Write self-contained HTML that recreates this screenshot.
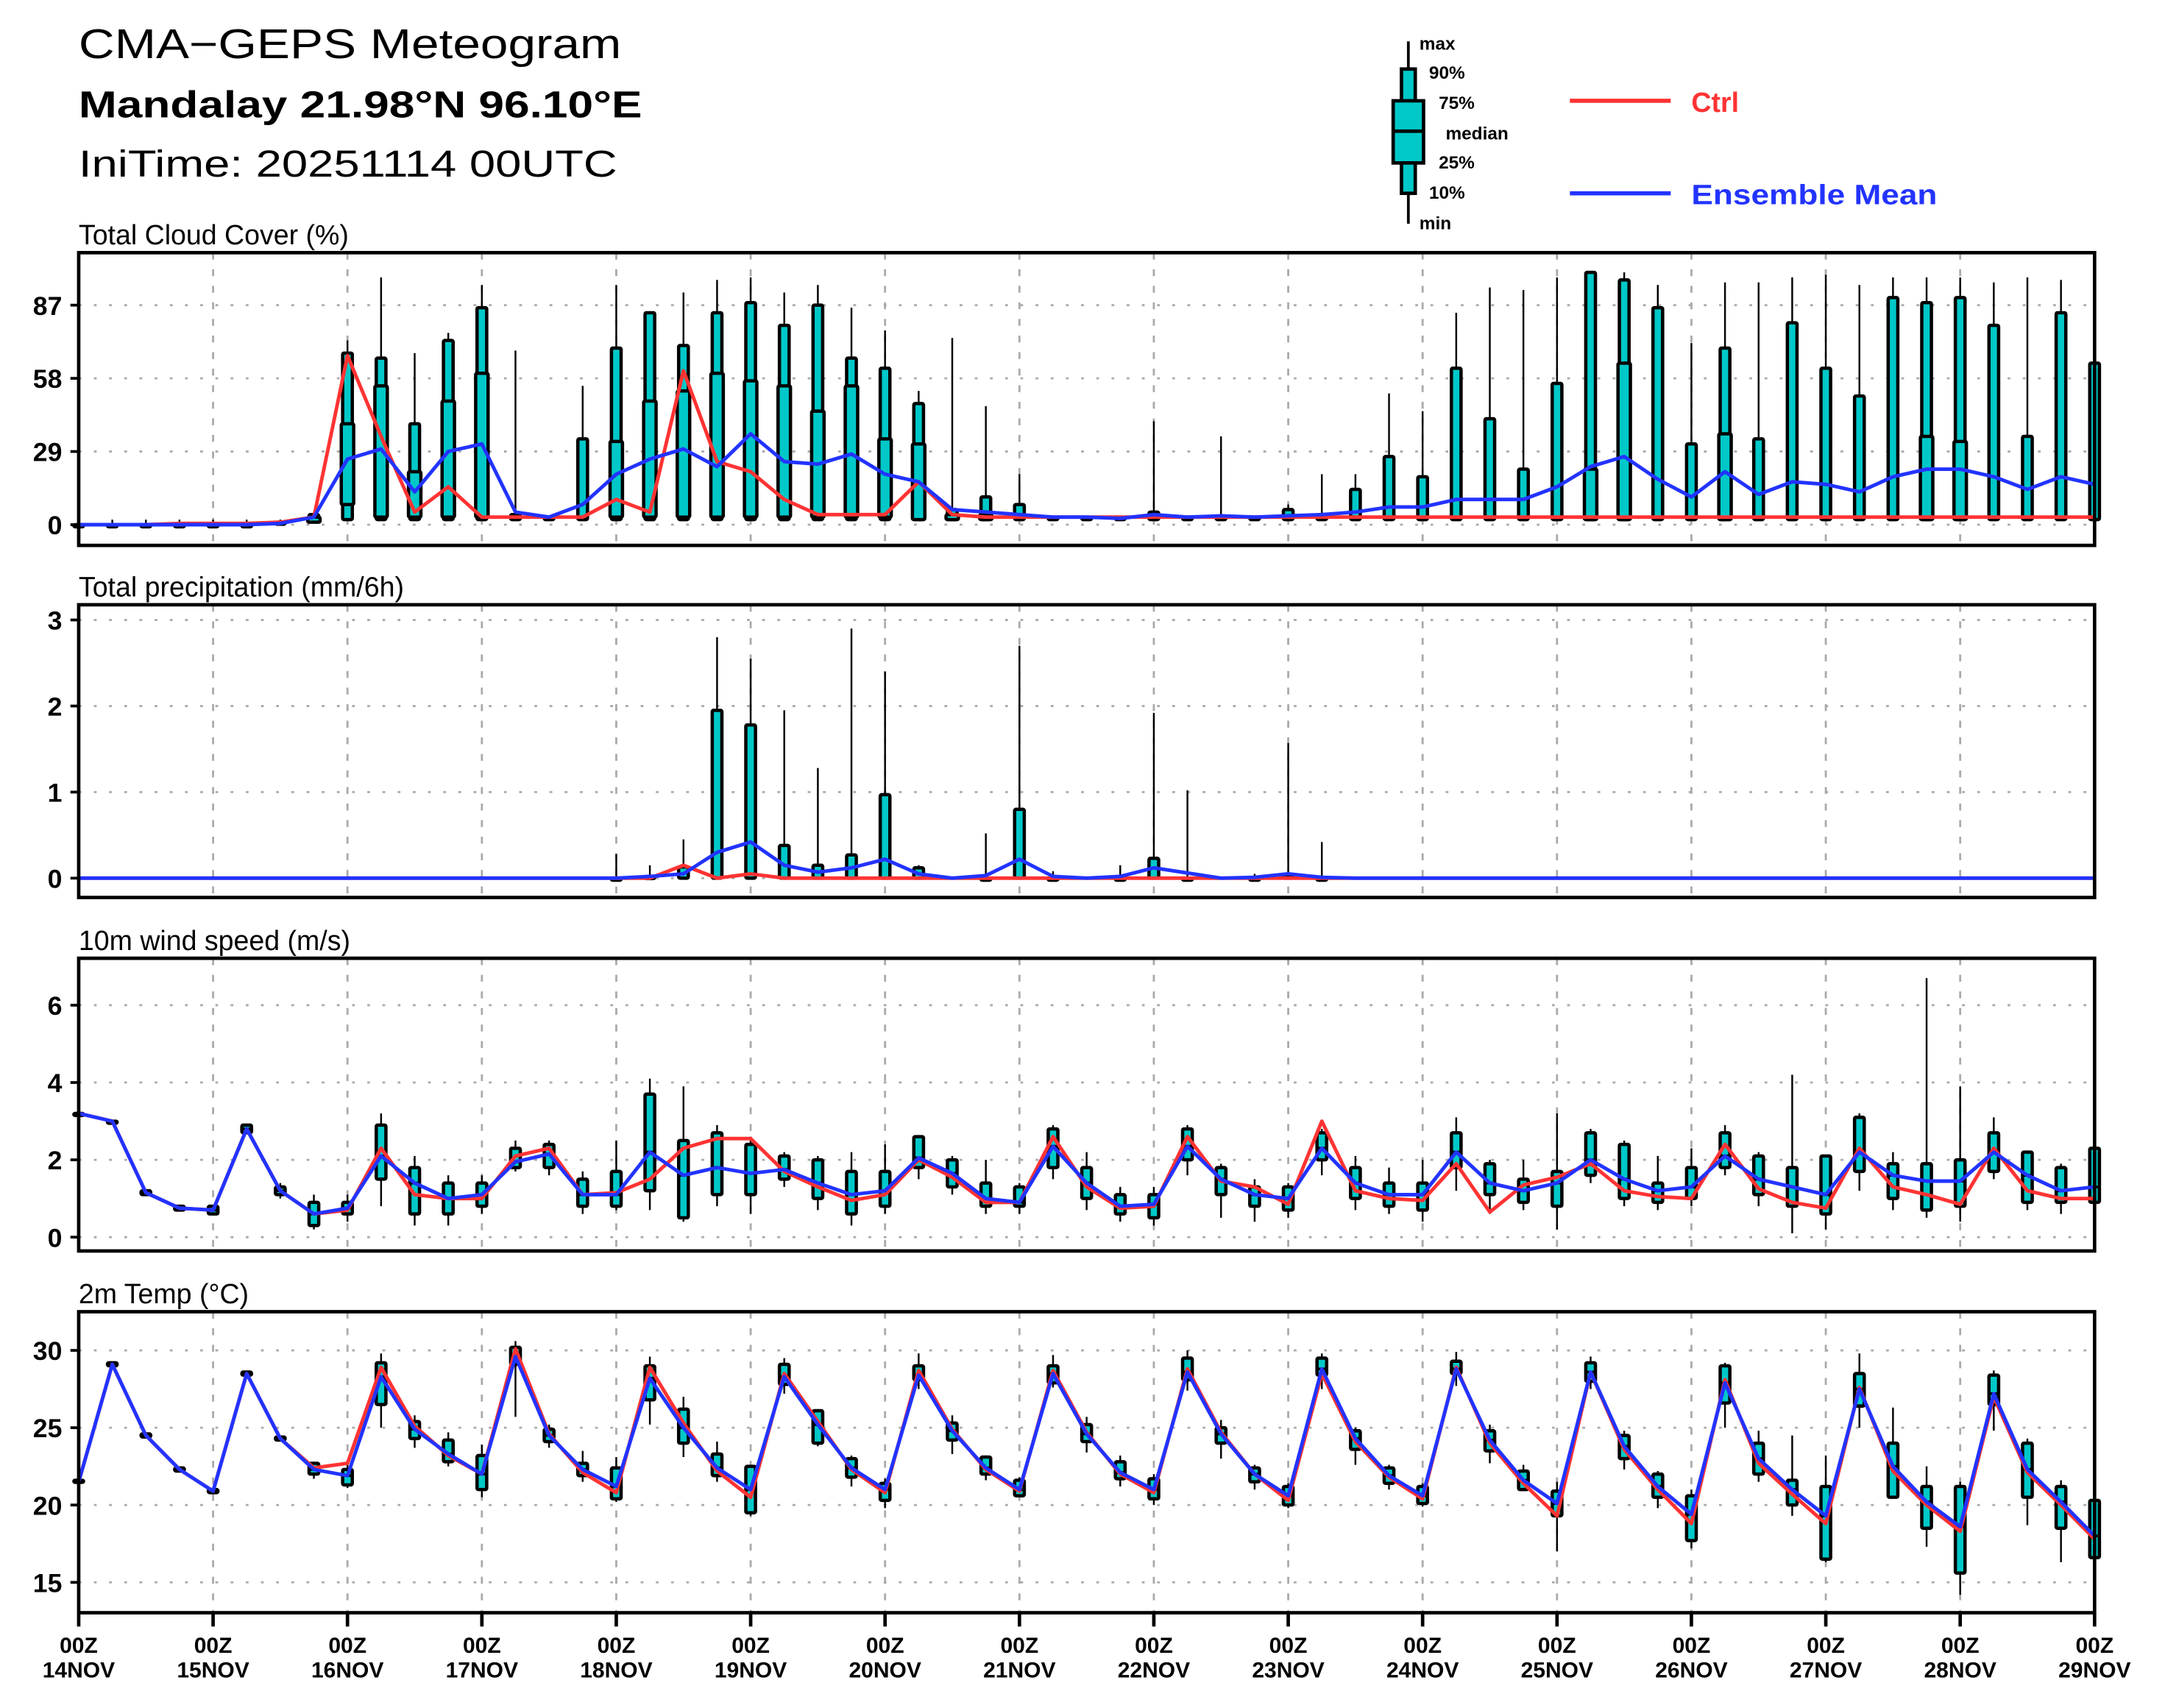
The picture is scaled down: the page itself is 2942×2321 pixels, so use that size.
<!DOCTYPE html>
<html><head><meta charset="utf-8"><style>
html,body{margin:0;padding:0;background:#fff}
svg{display:block}
text{font-family:"Liberation Sans",sans-serif;fill:#000}
</style></head><body>
<svg id="c" width="2942" height="2321" viewBox="0 0 1568 1237" preserveAspectRatio="none" xmlns="http://www.w3.org/2000/svg">
<text x="57" y="42" font-size="30" textLength="393" lengthAdjust="spacingAndGlyphs">CMA−GEPS Meteogram</text>
<text x="57" y="85" font-size="27" font-weight="bold" textLength="408" lengthAdjust="spacingAndGlyphs">Mandalay 21.98°N 96.10°E</text>
<text x="57" y="128" font-size="27" textLength="390" lengthAdjust="spacingAndGlyphs">IniTime: 20251114 00UTC</text>
<g>
<line x1="1020" y1="30" x2="1020" y2="162" stroke="#000" stroke-width="2"/>
<rect x="1015" y="50" width="10" height="90" fill="#00c8c8" stroke="#000" stroke-width="2.5"/>
<rect x="1009" y="73" width="22" height="45" fill="#00c8c8" stroke="#000" stroke-width="2.5"/>
<line x1="1009" y1="95" x2="1031" y2="95" stroke="#000" stroke-width="2.5"/>
<text x="1028" y="36" font-size="13" font-weight="bold">max</text>
<text x="1035" y="57" font-size="13" font-weight="bold">90%</text>
<text x="1042" y="79" font-size="13" font-weight="bold">75%</text>
<text x="1047" y="101" font-size="13" font-weight="bold">median</text>
<text x="1042" y="122" font-size="13" font-weight="bold">25%</text>
<text x="1035" y="144" font-size="13" font-weight="bold">10%</text>
<text x="1028" y="166" font-size="13" font-weight="bold">min</text>
</g>
<g>
<line x1="1137" y1="73" x2="1210" y2="73" stroke="#ff3333" stroke-width="3"/>
<text x="1225" y="81" font-size="20" font-weight="bold" style="fill:#ff3333">Ctrl</text>
</g>
<g>
<line x1="1137" y1="140" x2="1210" y2="140" stroke="#2233ff" stroke-width="3"/>
<text x="1225" y="148" font-size="20" font-weight="bold" style="fill:#2233ff" textLength="178" lengthAdjust="spacingAndGlyphs">Ensemble Mean</text>
</g>
<g id="plots"></g>
</svg>
<script>
const days=["14NOV","15NOV","16NOV","17NOV","18NOV","19NOV","20NOV","21NOV","22NOV","23NOV","24NOV","25NOV","26NOV","27NOV","28NOV","29NOV"];
// Cloud cover
const cCtrl=[0,0,0,0.5,0.5,0.5,1,3,67,35,5,15,3,3,3,3,10,5,61,25,21,10,4,4,4,17,4,3,3,3,3,3,3,3,3,3,3,3,3,3,3,3,3,3,3,3,3,3,3,3,3,3,3,3,3,3,3,3,3,3,3];
const cMean=[0,0,0,0,0,0,0.5,3,26,30,13,29,32,5,3,8,20,26,30,23,36,25,24,28,20,17,6,5,4,3,3,2.5,4,3,3.5,3,3.5,4,5,7,7,10,10,10,15,23,27,18,11,21,12,17,16,13,19,22,22,19,14,19,16];
const cP25=[0,0,0,0,0,0,0.5,1,8,3,3,3,3,2,2,2,3,3,3,3,3,3,3,3,3,2,2,2,2,2,2,2,2,2,2,2,2,2,2,2,2,2,2,2,2,2,2,2,2,2,2,2,2,2,2,2,2,2,2,2,2];
const cP75=[0,0,0,0,0,0,1,3,40,55,21,49,60,3,3,3,33,49,53,60,57,55,45,55,34,32,4,4,3,3,3,3,3,3,3,3,3,3,3,3,3,3,3,3,3,22,64,3,3,36,3,3,3,3,3,35,33,3,3,3,3];
const cP90=[0,0,0,0,0,0,1,4,68,66,40,73,86,4,3,34,70,84,71,84,88,79,87,66,62,48,6,11,8,3,3,3,5,3,3,3,6,4,14,27,19,62,42,22,56,100,97,86,32,70,34,80,62,51,90,88,90,79,35,84,64];
const cMax=[0,0,0,0,0,0,1,4,73,98,68,76,95,69,3,55,95,84,92,97,98,92,95,86,77,53,74,47,20,3,3,3,41,3,35,3,8,20,20,52,45,84,94,93,98,100,100,95,72,96,96,98,99,95,98,98,98,96,98,97,64];
// Precipitation
const pCtrl=[0,0,0,0,0,0,0,0,0,0,0,0,0,0,0,0,0,0,0.15,0,0.05,0,0,0,0,0,0,0,0,0,0,0,0,0,0,0,0,0,0,0,0,0,0,0,0,0,0,0,0,0,0,0,0,0,0,0,0,0,0,0,0];
const pMean=[0,0,0,0,0,0,0,0,0,0,0,0,0,0,0,0,0,0.02,0.05,0.3,0.42,0.15,0.07,0.12,0.22,0.05,0,0.03,0.22,0.02,0,0.02,0.12,0.06,0,0.01,0.05,0.01,0,0,0,0,0,0,0,0,0,0,0,0,0,0,0,0,0,0,0,0,0,0,0];
const pP90=[0,0,0,0,0,0,0,0,0,0,0,0,0,0,0,0,0,0.02,0.13,1.95,1.78,0.38,0.15,0.27,0.97,0.12,0,0,0.8,0,0,0,0.23,0,0,0,0.03,0,0,0,0,0,0,0,0,0,0,0,0,0,0,0,0,0,0,0,0,0,0,0,0];
const pMax=[0,0,0,0,0,0,0,0,0,0,0,0,0,0,0,0,0.28,0.15,0.45,2.8,2.55,1.95,1.28,2.9,2.4,0.15,0,0.52,2.7,0.08,0,0.15,1.92,1.02,0,0.05,1.57,0.42,0,0,0,0,0,0,0,0,0,0,0,0,0,0,0,0,0,0,0,0,0,0,0];
// Wind
const wCtrl=[3.2,3.0,1.15,0.75,0.7,2.8,1.2,0.6,0.7,2.3,1.1,1.0,1.0,2.1,2.3,1.1,1.15,1.5,2.3,2.55,2.55,1.7,1.3,0.95,1.1,2.0,1.55,0.9,0.9,2.6,1.3,0.75,0.8,2.6,1.45,1.3,0.85,3.0,1.2,1.0,0.95,1.9,0.65,1.35,1.55,1.9,1.2,1.05,1.0,2.4,1.25,0.9,0.75,2.3,1.3,1.1,0.85,2.3,1.2,1.0,1.0];
const wMean=[3.2,3.0,1.15,0.75,0.7,2.8,1.2,0.6,0.75,2.1,1.4,1.0,1.1,1.95,2.15,1.1,1.1,2.2,1.6,1.8,1.65,1.75,1.4,1.1,1.2,2.05,1.65,1.0,0.9,2.35,1.4,0.8,0.85,2.35,1.5,1.1,1.0,2.3,1.4,1.1,1.1,2.2,1.4,1.2,1.4,2.0,1.5,1.2,1.3,2.1,1.5,1.3,1.1,2.2,1.6,1.45,1.45,2.2,1.6,1.2,1.3];
const wMin=[3.2,3.0,1.1,0.7,0.6,2.7,1.0,0.2,0.4,0.8,0.3,0.3,0.6,1.7,1.6,0.6,0.7,0.7,0.4,0.8,0.6,1.3,0.7,0.3,0.6,1.5,1.1,0.6,0.6,1.5,0.7,0.4,0.3,1.6,0.5,0.4,0.5,1.6,0.7,0.6,0.4,1.2,0.6,0.7,0.2,1.4,0.8,0.7,0.8,1.6,0.8,0.1,0.2,1.2,0.7,0.5,0.4,1.5,0.7,0.6,0.7];
const wP25=[3.2,3.0,1.1,0.7,0.6,2.7,1.1,0.3,0.6,1.5,0.6,0.6,0.8,1.8,1.8,0.8,0.8,1.2,0.5,1.1,1.1,1.5,1.0,0.6,0.8,1.8,1.3,0.8,0.8,1.8,1.0,0.6,0.5,2.0,1.1,0.8,0.7,2.0,1.0,0.8,0.7,1.8,1.1,0.9,0.8,1.6,1.0,0.9,1.0,1.8,1.1,0.8,0.6,1.7,1.0,0.7,0.8,1.7,0.9,0.9,0.9];
const wP75=[3.2,3.0,1.2,0.8,0.8,2.9,1.3,0.9,0.9,2.9,1.8,1.4,1.4,2.3,2.4,1.5,1.7,3.7,2.5,2.7,2.4,2.1,2.0,1.7,1.7,2.6,2.0,1.4,1.3,2.8,1.8,1.1,1.1,2.8,1.8,1.3,1.3,2.7,1.8,1.4,1.4,2.7,1.9,1.5,1.7,2.7,2.4,1.4,1.8,2.7,2.1,1.8,2.1,3.1,1.9,1.9,2.0,2.7,2.2,1.8,2.3];
const wMax=[3.2,3.0,1.2,0.8,0.8,2.9,1.4,1.1,1.1,3.2,2.1,1.6,1.6,2.5,2.5,1.7,2.5,4.1,3.9,2.9,2.6,2.2,2.1,2.2,2.4,2.6,2.1,2.0,1.4,2.9,2.2,1.3,1.3,2.9,1.9,1.5,1.4,2.8,2.1,1.8,2.0,3.1,2.0,2.0,3.2,2.8,2.5,2.1,2.3,2.9,2.2,4.2,2.1,3.2,2.2,6.7,3.9,3.1,2.2,1.9,2.3];
// Temperature
const tCtrl=[21.5,29.1,24.5,22.3,20.9,28.5,24.3,22.4,22.7,28.9,25.1,23.2,22.0,30.1,24.6,22.1,20.8,28.9,25.3,22.2,20.5,28.5,25.4,22.3,20.8,28.7,24.9,22.3,20.9,28.7,24.7,22.0,20.8,28.8,24.7,22.0,20.3,28.5,24.1,21.8,20.4,28.9,24.0,21.4,19.3,28.6,23.6,21.0,18.8,28.1,22.7,20.7,18.8,27.6,22.2,20.0,18.3,27.0,22.1,20.0,17.8];
const tMean=[21.5,29.1,24.5,22.3,20.9,28.5,24.3,22.3,21.9,28.3,24.9,23.3,22.0,29.6,24.5,22.3,21.2,28.2,25.0,22.4,21.0,28.3,25.2,22.4,21.0,28.4,24.8,22.4,21.0,28.5,24.6,22.1,21.0,28.6,24.6,22.0,20.6,28.8,24.3,21.9,20.6,28.8,24.2,21.6,20.1,28.6,23.8,21.2,19.4,27.9,23.0,21.0,19.3,27.5,22.5,20.2,18.6,27.2,22.3,20.2,18.0];
const tMin=[21.4,29.0,24.3,22.1,20.7,28.3,24.1,21.7,21.1,25,23.7,22.5,20.5,25.7,23.7,21.5,20.2,25.2,23.1,21.5,19.3,27.2,23.8,21.2,19.8,27.5,23.3,21.6,20.5,27.6,23.4,21.2,20.0,27.4,23.0,21.0,19.8,27.5,22.6,21.0,19.9,27.7,22.7,20.9,17.0,27.5,22.3,19.8,17.2,25.0,21.5,19.3,16.3,25.0,20.5,17.3,14.2,24.8,18.7,16.3,16.4];
const tP25=[21.5,29.0,24.4,22.2,20.8,28.4,24.2,22.0,21.3,26.5,24.3,22.8,21.0,29.1,24.1,21.9,20.4,26.8,24.0,21.9,19.5,27.8,24.0,21.8,20.3,28.1,24.2,22.0,20.6,27.9,24.1,21.7,20.4,28.1,24.0,21.5,20.0,28.4,23.6,21.4,20.1,28.5,23.5,21.0,19.3,28.0,23.0,20.5,17.7,26.6,22.0,20.0,16.5,26.4,20.5,18.5,15.6,26.5,20.5,18.5,16.6];
const tP75=[21.6,29.2,24.6,22.4,21.0,28.6,24.4,22.7,22.3,29.2,25.4,24.2,23.2,30.2,24.9,22.7,22.4,29.0,26.2,23.3,22.5,29.1,26.1,23.0,21.4,29.0,25.3,23.1,21.6,29.0,25.2,22.8,21.7,29.5,25.0,22.4,21.2,29.5,24.8,22.4,21.2,29.3,24.8,22.2,20.9,29.2,24.5,22.0,20.6,29.0,24.0,21.6,21.2,28.5,24.0,21.2,21.2,28.4,24.0,21.2,20.3];
const tMax=[21.6,29.2,24.6,22.4,21.0,28.6,24.4,22.8,22.6,29.8,25.8,24.7,23.9,30.6,25.2,23.5,23.1,29.6,27.0,24.1,22.6,29.5,26.2,23.2,21.7,29.8,25.8,23.2,21.8,29.7,25.7,23.2,22.0,30.0,25.5,22.6,21.4,29.8,25.0,22.6,21.4,29.9,25.2,22.6,21.5,29.6,24.8,22.2,21.0,29.2,24.8,24.5,23.2,29.8,26.3,22.5,21.5,28.7,24.3,21.6,20.3];
const cTicks=[0,29,58,87], pTicks=[0,1,2,3], wTicks=[0,2,4,6], tTicks=[15,20,25,30];

const NS="http://www.w3.org/2000/svg";
const root=document.getElementById('plots');
const X0=57,X1=1517,N=60;
function xs(i){return X0+(X1-X0)*i/N;}
function mk(tag,attrs,parent){const e=document.createElementNS(NS,tag);for(const k in attrs)e.setAttribute(k,attrs[k]);parent.appendChild(e);return e;}

function panel(name,title,top,bot,v0,y0,v1,y1,ticks,draw){
  const g=mk('g',{},root);
  
  
  const ys=v=>y0+(v-v0)*(y1-y0)/(v1-v0);
  const t=mk('text',{x:57,y:top-6,'font-size':20},g);t.textContent=title;
  
  
  for(let d=1;d<15;d++){const x=xs(d*4);mk('line',{x1:x,y1:top,x2:x,y2:bot,stroke:'#aaa','stroke-width':1.5,'stroke-dasharray':'5,7'},g);}
  ticks.forEach(v=>{const y=ys(v);
    mk('line',{x1:X0,y1:y,x2:X1,y2:y,stroke:'#aaa','stroke-width':1.5,'stroke-dasharray':'2,9'},g);
    mk('line',{x1:X0-6,y1:y,x2:X0,y2:y,stroke:'#000','stroke-width':2},g);
    const tl=mk('text',{x:X0-12,y:y+7,'font-size':19,'font-weight':'bold','text-anchor':'end'},g);tl.textContent=v;
    
    
  });
  draw(g,ys);
  mk('rect',{x:X0,y:top,width:X1-X0,height:bot-top,fill:'none',stroke:'#000','stroke-width':2.5},g);
  return g;
}
function box(g,i,ys,lo,hi,wlo,whi,med,bw){
  const x=xs(i);
  mk('line',{x1:x,y1:ys(wlo),x2:x,y2:ys(whi),stroke:'#000','stroke-width':1.3},g);
  const r=mk('rect',{x:x-bw/2,y:ys(hi),width:bw,height:Math.max(ys(lo)-ys(hi),1.5),fill:'#00c8c8',stroke:'#000','stroke-width':2.4,rx:1},g);
  
  
  if(med!=null) mk('line',{x1:x-bw/2,y1:ys(med),x2:x+bw/2,y2:ys(med),stroke:'#000','stroke-width':2},g);
}
function line(g,arr,ys,col,name){
  const p=mk('polyline',{points:arr.map((v,i)=>xs(i)+','+ys(v)).join(' '),fill:'none',stroke:col,'stroke-width':2.6,'stroke-linejoin':'round'},g);
  
  
}
panel('cloud-cover-panel','Total Cloud Cover (%)',183,395,0,380,87,221,cTicks,(g,ys)=>{
  for(let i=0;i<=N;i++){box(g,i,ys,2,cP90[i],2,cMax[i],null,7);
    if(cP75[i]>cP25[i]+1) box(g,i,ys,cP25[i],cP75[i],cP25[i],cP25[i],null,9);}
  line(g,cCtrl,ys,'#ff3333','ctrl-line');line(g,cMean,ys,'#2233ff','ensemble-mean-line');
});
panel('precipitation-panel','Total precipitation (mm/6h)',438,650,0,636,3,449,pTicks,(g,ys)=>{
  for(let i=0;i<=N;i++){ if(pMax[i]>0) box(g,i,ys,0,pP90[i],0,pMax[i],null,7);}
  line(g,pCtrl,ys,'#ff3333','ctrl-line');line(g,pMean,ys,'#2233ff','ensemble-mean-line');
});
panel('wind-speed-panel','10m wind speed (m/s)',694,906,0,896,6,728,wTicks,(g,ys)=>{
  for(let i=0;i<=N;i++) box(g,i,ys,wP25[i],wP75[i],wMin[i],wMax[i],wMean[i],7);
  line(g,wCtrl,ys,'#ff3333','ctrl-line');line(g,wMean,ys,'#2233ff','ensemble-mean-line');
});
panel('temperature-panel','2m Temp (°C)',950,1168,30,978,15,1146,tTicks,(g,ys)=>{
  for(let i=0;i<=N;i++) box(g,i,ys,tP25[i],tP75[i],tMin[i],tMax[i],tMean[i],7);
  line(g,tCtrl,ys,'#ff3333','ctrl-line');line(g,tMean,ys,'#2233ff','ensemble-mean-line');
});
const xa=mk('g',{},root);


days.forEach((d,k)=>{const x=xs(k*4);
  mk('line',{x1:x,y1:1168,x2:x,y2:1178,stroke:'#000','stroke-width':2.5},xa);
  const a=mk('text',{x:x,y:1197,'font-size':16,'font-weight':'bold','text-anchor':'middle'},xa);a.textContent='00Z';
  
  
  const b=mk('text',{x:x,y:1215,'font-size':16,'font-weight':'bold','text-anchor':'middle'},xa);b.textContent=d;
  
  
});
</script>
</body></html>
